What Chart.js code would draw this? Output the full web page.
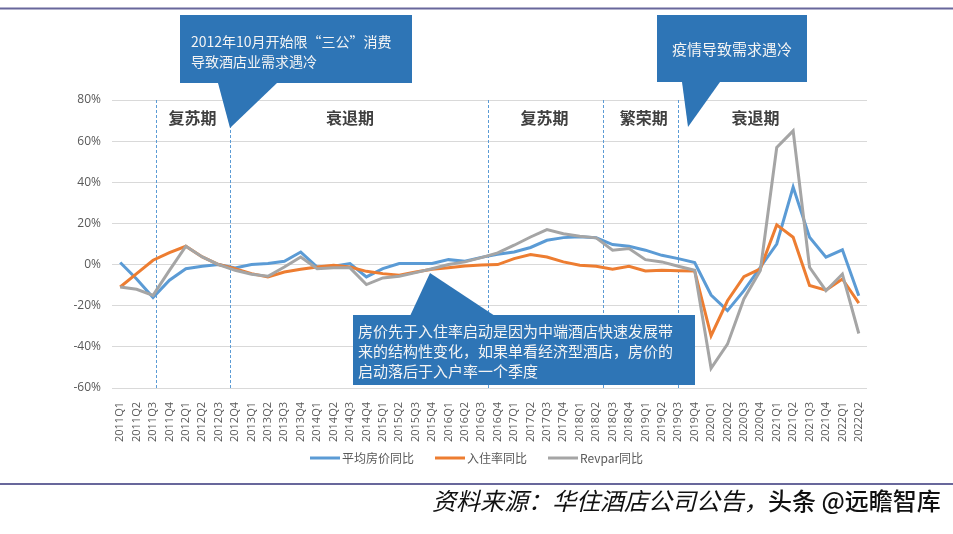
<!DOCTYPE html>
<html>
<head>
<meta charset="utf-8">
<script src="https://cdn.jsdelivr.net/npm/chart.js@4.4.1/dist/chart.umd.min.js"></script>
<style>
html,body{margin:0;padding:0;background:#fff;}
#wrap{width:953px;height:534px;position:relative;}
</style>
</head>
<body>
<div id="wrap"><canvas id="c" width="953" height="534"></canvas></div>
<script>
// ---- data ----
const categories = ['2011Q1','2011Q2','2011Q3','2011Q4','2012Q1','2012Q2','2012Q3','2012Q4',
'2013Q1','2013Q2','2013Q3','2013Q4','2014Q1','2014Q2','2014Q3','2014Q4',
'2015Q1','2015Q2','2015Q3','2015Q4','2016Q1','2016Q2','2016Q3','2016Q4',
'2017Q1','2017Q2','2017Q3','2017Q4','2018Q1','2018Q2','2018Q3','2018Q4',
'2019Q1','2019Q2','2019Q3','2019Q4','2020Q1','2020Q2','2020Q3','2020Q4',
'2021Q1','2021Q2','2021Q3','2021Q4','2022Q1','2022Q2'];
const avgPrice = [1, -7, -16, -7.6, -2, -0.8, 0, -1.6, 0, 0.5, 1.6, 6.1, -1.2, -0.8, 0.5, -6, -2, 0.5, 0.5, 0.5, 2.4, 1.6, 3.5, 5.0, 6.1, 8.3, 11.8, 13.1, 13.5, 13, 9.7, 8.9, 7.0, 4.5, 2.9, 1.0, -14.8, -22.4, -12.7, -1.3, 10, 37.7, 13.3, 3.6, 7.2, -15.1];
const occupancy = [-10.9, -4.4, 2.1, 5.8, 8.9, 3.7, 0, -2, -4.4, -6, -3.6, -2.3, -1.2, -0.3, -1.2, -3.3, -4.4, -5.2, -3.6, -2.3, -1.5, -0.7, -0.2, 0, 2.9, 4.9, 3.7, 1.3, -0.3, -0.8, -2.3, -0.8, -3.1, -2.8, -3, -3.1, -34.6, -17.6, -5.9, -2.1, 19.3, 13.3, -10.2, -12.4, -7, -18.7];
const revpar = [-10.9, -12, -15, -2.8, 8.9, 3.7, 0, -2.8, -4.7, -5.7, -1.2, 3.7, -2, -1.5, -1.6, -9.7, -6.5, -5.7, -3.9, -2, 0, 1.3, 3.4, 5.7, 9.4, 13.4, 17, 15, 13.8, 13, 7.0, 7.8, 2.4, 1.3, -0.8, -2.8, -50.4, -38.7, -16.7, -2.9, 56.9, 65, -1.3, -12.7, -4.6, -33.5];
const seriesNames = ['平均房价同比','入住率同比','Revpar同比'];
const yTicks = [-60,-40,-20,0,20,40,60,80];
// period dividers (fractional category index) and period labels
const dividers = [2.2, 6.7, 22.4, 29.4, 34.0];
const periodNames = ['复苏期','衰退期','复苏期','繁荣期','衰退期'];
const periodPos = [4.4, 14.0, 25.85, 31.9, 38.7];
const sourceText = '资料来源：华住酒店公司公告，';
const watermark = '头条 @远瞻智库';
const callouts = [
  {box:[180,15,232,68], tri:[[218,83],[277,83],[230,128]], lines:['2012年10月开始限“三公”消费','导致酒店业需求遇冷'], tx:191, ty:[42,62], size:14, align:'left'},
  {box:[657,15,150,67], tri:[[682,82],[720,82],[688,127]], lines:['疫情导致需求遇冷'], tx:732, ty:[49], size:15, align:'center'},
  {box:[353,315,342,70], tri:[[410,316],[495,316],[430,273]], lines:['房价先于入住率启动是因为中端酒店快速发展带','来的结构性变化，如果单看经济型酒店，房价的','启动落后于入户率一个季度'], tx:358, ty:[331,351,371], size:15, align:'left'}
];

const colors = ['#5B9BD5','#ED7D31','#A5A5A5'];
const CJK = "'Noto Sans CJK SC', 'Noto Sans', sans-serif";

const deco = {
  id:'deco',
  beforeDatasetsDraw(chart){
    const {ctx, chartArea:a, scales:{x}} = chart;
    const p0 = x.getPixelForValue(0), step = x.getPixelForValue(1) - p0;
    ctx.save();
    ctx.strokeStyle = '#5B9BD5';
    ctx.lineWidth = 1;
    ctx.setLineDash([3,2]);
    dividers.forEach(d=>{
      const px = Math.round(p0 + d*step) + 0.5;
      ctx.beginPath(); ctx.moveTo(px, a.top); ctx.lineTo(px, a.bottom); ctx.stroke();
    });
    ctx.restore();
  },
  afterDraw(chart){
    const {ctx, chartArea:a, scales:{x}} = chart;
    const p0 = x.getPixelForValue(0), step = x.getPixelForValue(1) - p0;
    ctx.save();
    // period labels
    ctx.fillStyle = '#404040';
    ctx.font = "bold 16px " + CJK;
    ctx.textAlign = 'center'; ctx.textBaseline = 'middle';
    periodNames.forEach((n,i)=>{ ctx.fillText(n, p0 + periodPos[i]*step, a.top + 18); });
    // callouts
    callouts.forEach(c=>{
      ctx.fillStyle = '#2E75B6';
      ctx.fillRect(c.box[0], c.box[1], c.box[2], c.box[3]);
      ctx.beginPath();
      ctx.moveTo(c.tri[0][0], c.tri[0][1]); ctx.lineTo(c.tri[1][0], c.tri[1][1]); ctx.lineTo(c.tri[2][0], c.tri[2][1]);
      ctx.closePath(); ctx.fill();
      ctx.fillStyle = '#F4F4F4';
      ctx.font = c.size + "px " + CJK;
      ctx.textAlign = c.align; ctx.textBaseline = 'middle';
      c.lines.forEach((l,i)=> ctx.fillText(l, c.tx, c.ty[i]));
    });
    // legend
    ctx.font = "12px " + CJK;
    ctx.textAlign = 'left'; ctx.textBaseline = 'middle';
    const lx = [310, 435, 548];
    seriesNames.forEach((n,i)=>{
      ctx.strokeStyle = colors[i]; ctx.lineWidth = 3; ctx.setLineDash([]);
      ctx.beginPath(); ctx.moveTo(lx[i], 458); ctx.lineTo(lx[i]+30, 458); ctx.stroke();
      ctx.fillStyle = '#595959';
      ctx.fillText(n, lx[i]+32, 458);
    });
    // frame lines
    ctx.strokeStyle = '#68679B'; ctx.lineWidth = 2;
    ctx.beginPath(); ctx.moveTo(0, 8.5); ctx.lineTo(953, 8.5); ctx.stroke();
    ctx.beginPath(); ctx.moveTo(0, 484); ctx.lineTo(953, 484); ctx.stroke();
    // source
    ctx.fillStyle = '#111';
    ctx.font = "italic 24px " + CJK;
    ctx.textAlign = 'left'; ctx.textBaseline = 'middle';
    ctx.fillText(sourceText, 432, 501);
    const w = ctx.measureText(sourceText).width;
    ctx.font = "500 24px " + CJK;
    ctx.fillText(watermark, 432 + w, 501);
    ctx.restore();
  }
};

new Chart(document.getElementById('c'), {
  type:'line',
  data:{
    labels: categories,
    datasets:[
      {label:seriesNames[0], data:avgPrice, borderColor:colors[0], backgroundColor:colors[0], borderWidth:3, pointRadius:0, tension:0, order:2},
      {label:seriesNames[1], data:occupancy, borderColor:colors[1], backgroundColor:colors[1], borderWidth:3, pointRadius:0, tension:0, order:1},
      {label:seriesNames[2], data:revpar, borderColor:colors[2], backgroundColor:colors[2], borderWidth:3, pointRadius:0, tension:0, order:0}
    ]
  },
  options:{
    responsive:false,
    devicePixelRatio:1,
    animation:false,
    layout:{padding:{left:0, right:86, top:100, bottom:80}},
    plugins:{legend:{display:false}, tooltip:{enabled:false}},
    scales:{
      x:{
        offset:true,
        grid:{display:false},
        border:{display:false},
        ticks:{autoSkip:false, minRotation:90, maxRotation:90, padding:6, color:'#595959', font:{family:"'Open Sans', sans-serif", size:11}},
        afterFit(s){ s.height = 66; }
      },
      y:{
        min:-60, max:80,
        afterBuildTicks(s){ s.ticks = yTicks.map(v=>({value:v})); },
        grid:{color:'#D9D9D9', lineWidth:1, drawTicks:false},
        border:{display:false},
        ticks:{padding:11, color:'#595959', font:{family:"'Open Sans', sans-serif", size:12}, callback:v=>v+'%'},
        afterFit(s){ s.width = 112; }
      }
    }
  },
  plugins:[deco]
});
</script>
</body>
</html>
